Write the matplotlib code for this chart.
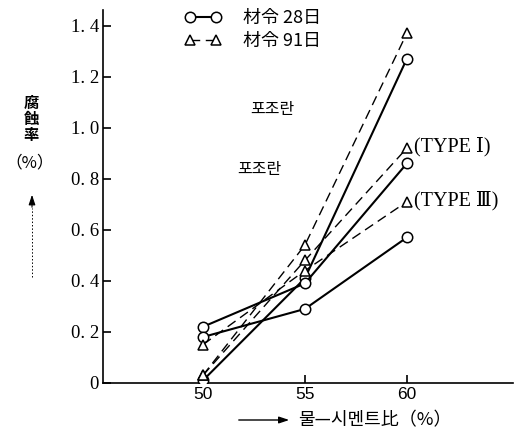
import matplotlib
matplotlib.use('Agg')
import matplotlib.pyplot as plt
from matplotlib.lines import Line2D

# water-cement ratio (%)
wc = [50, 55, 60]
# corrosion rate (%)
pz_28 = [0.01, 0.41, 1.27]   # pozzolan, age 28 days
pz_91 = [0.03, 0.54, 1.37]   # pozzolan, age 91 days
t1_28 = [0.22, 0.39, 0.86]   # TYPE I, 28 days
t1_91 = [0.03, 0.48, 0.92]   # TYPE I, 91 days
t3_28 = [0.18, 0.29, 0.57]   # TYPE III, 28 days
t3_91 = [0.15, 0.44, 0.71]   # TYPE III, 91 days

yticks = [0, 0.2, 0.4, 0.6, 0.8, 1.0, 1.2, 1.4]
ytick_labels = ['0', '0. 2', '0. 4', '0. 6', '0. 8', '1. 0', '1. 2', '1. 4']
xticks = [50, 55, 60]
xtick_labels = ['50', '55', '60']
legend_labels = ['材令 28日', '材令 91日']

CJK_JP = ['Noto Sans CJK JP', 'DejaVu Sans']
CJK_KR = ['Noto Sans CJK KR', 'DejaVu Sans']
SERIF = ['Liberation Serif', 'DejaVu Serif', 'DejaVu Sans']

fig = plt.figure(figsize=(5.15, 4.36), dpi=100)
ax = fig.add_axes([0.2, 0.1216, 0.796, 0.855])

solid = dict(color='k', lw=1.5, ls='-', marker='o', ms=7.5, mfc='white',
             mec='k', mew=1.1, zorder=3)
dashed = dict(color='k', lw=1.0, ls=(0, (7, 4)), marker='^', ms=7.5,
              mfc='white', mec='k', mew=1.1, zorder=3)

for s in (pz_28, t1_28, t3_28):
    ax.plot(wc, s, **solid)
for s in (pz_91, t1_91, t3_91):
    ax.plot(wc, s, **dashed)

ax.set_xlim(45.1, 65.2)
ax.set_ylim(0, 1.46)
ax.spines['top'].set_visible(False)
ax.spines['right'].set_visible(False)
for sp in ('left', 'bottom'):
    ax.spines[sp].set_linewidth(1.2)

ax.set_yticks(yticks)
ax.set_yticklabels(ytick_labels, fontfamily=SERIF, fontsize=13.5)
ax.set_xticks(xticks)
ax.set_xticklabels(xtick_labels, fontfamily=['Liberation Sans', 'DejaVu Sans'], fontsize=12.5)
ax.tick_params(axis='both', direction='in', length=6, width=1.2, pad=3)

# type labels next to the 60 % points
ax.annotate('(TYPE Ⅰ)', xy=(wc[-1], t1_91[-1]), xytext=(5, 1), textcoords='offset points',
            ha='left', va='center', fontsize=14.5, fontfamily=SERIF)
ax.annotate('(TYPE Ⅲ)', xy=(wc[-1], t3_91[-1]), xytext=(5, 1), textcoords='offset points',
            ha='left', va='center', fontsize=14.5, fontfamily=SERIF)

# pozzolan labels
ax.text(53.4, 1.07, '포조란', ha='center', va='center', fontsize=11.5, fontfamily=CJK_KR)
ax.text(52.75, 0.835, '포조란', ha='center', va='center', fontsize=11.5, fontfamily=CJK_KR)

# legend
handles = [Line2D([], [], **{k: v for k, v in solid.items() if k != 'zorder'}),
           Line2D([], [], **{k: v for k, v in dashed.items() if k != 'zorder'})]
ax.legend(handles, legend_labels, loc='upper left', bbox_to_anchor=(176 / 515, 1 - 0 / 436),
          bbox_transform=fig.transFigure, frameon=False, numpoints=2, handlelength=2.0,
          handletextpad=1.2, labelspacing=0.3, borderpad=0.0,
          prop={'family': CJK_JP, 'size': 13})

# y-axis label (vertical stacked characters)
fig.text(31 / 515, 1 - 119 / 436, '腐\n蝕\n率', ha='center', va='center', fontsize=11,
         fontfamily=CJK_JP, fontweight='bold', linespacing=1.0)
fig.text(30 / 515, 1 - 163 / 436, '（%）', ha='center', va='center', fontsize=12,
         fontfamily=CJK_JP)
fig.add_artist(Line2D([32 / 515, 32 / 515], [1 - 277 / 436, 1 - 208 / 436],
                      transform=fig.transFigure, color='k', lw=0.7, ls=(0, (1.5, 2))))
ax.annotate('', xy=(32 / 515, 1 - 192 / 436), xytext=(32 / 515, 1 - 210 / 436),
            xycoords='figure fraction', textcoords='figure fraction',
            arrowprops=dict(arrowstyle='-|>,head_length=0.6,head_width=0.2', color='k', lw=0.8))

# x-axis label with arrow
ax.annotate('', xy=(292 / 515, 1 - 420 / 436), xytext=(236 / 515, 1 - 420 / 436),
            xycoords='figure fraction', textcoords='figure fraction',
            arrowprops=dict(arrowstyle='-|>,head_length=0.6,head_width=0.2', color='k', lw=1.0))
fig.text(298 / 515, 1 - 420 / 436, '물—시멘트比（%）', ha='left', va='center', fontsize=13,
         fontfamily=CJK_KR)

fig.savefig('out.png', dpi=100)
